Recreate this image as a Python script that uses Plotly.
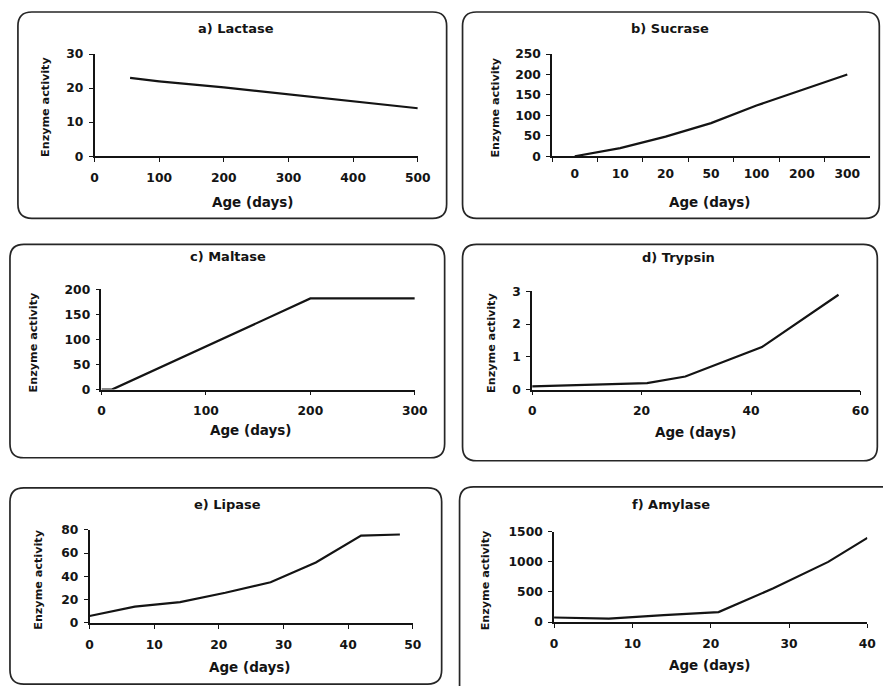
import plotly.graph_objects as go

W, H = 883, 686

# ---------------- data ----------------
lactase_age = [55, 100, 200, 300, 400, 500]
lactase_act = [23, 22, 20.2, 18.2, 16.3, 14.1]

sucrase_age = ["0", "10", "20", "50", "100", "200", "300"]
sucrase_act = [0, 20, 48, 81, 124, 162, 200]

maltase_age = [0, 10, 200, 300]
maltase_act = [0, 0, 182, 182]

trypsin_age = [0, 21, 28, 42, 56]
trypsin_act = [0.1, 0.2, 0.4, 1.3, 2.9]

lipase_age = [0, 7, 14, 21, 28, 35, 42, 48]
lipase_act = [6, 14, 18, 26, 35, 52, 75, 76]

amylase_age = [0, 7, 14, 21, 28, 35, 40]
amylase_act = [75, 55, 115, 165, 560, 1000, 1400]

titles = ["a) Lactase", "b) Sucrase", "c) Maltase", "d) Trypsin", "e) Lipase", "f) Amylase"]
x_title = "Age (days)"
y_title = "Enzyme activity"

# ---------------- layout helpers (screen px -> paper, with capture calibration) ----------------
SX, OX = 0.986, 2.0
SY, OY = 0.978, 8.0


def px(x):
    return ((x - OX) / SX) / W


def py(y):
    return 1 - ((y - OY) / SY) / H


def clamp(v):
    return min(1.0, max(0.0, v))


FONT = "DejaVu Sans"
INK = "#141414"

panels = [
    dict(x=lactase_age, y=lactase_act, area=(93, 418, 55, 157), xr=[0, 500], xd=100, yr=[0, 30], yd=10,
         box=(16, 13, 447, 219), t=(235, 29), xt=(252, 203), yt=(43, 108)),
    dict(x=sucrase_age, y=sucrase_act, area=(553, 873, 55, 157), xr=None, xd=None, yr=[0, 250], yd=50,
         box=(463, 13, 882, 219), t=(672, 29), xt=(712, 203), yt=(496, 108)),
    dict(x=maltase_age, y=maltase_act, area=(100, 415, 290, 390), xr=[0, 300], xd=100, yr=[0, 200], yd=50,
         box=(8, 245, 445, 458), t=(227, 257), xt=(250, 430), yt=(32, 343)),
    dict(x=trypsin_age, y=trypsin_act, area=(533, 863, 292, 390), xr=[0, 60], xd=20, yr=[0, 3], yd=1,
         box=(463, 245, 880, 461), t=(680, 258), xt=(698, 432), yt=(492, 343)),
    dict(x=lipase_age, y=lipase_act, area=(88, 413, 530, 623), xr=[0, 50], xd=10, yr=[0, 80], yd=20,
         box=(8, 488, 442, 684), t=(227, 505), xt=(249, 667), yt=(37, 580)),
    dict(x=amylase_age, y=amylase_act, area=(555, 870, 532, 622), xr=[0, 40], xd=10, yr=[0, 1500], yd=500,
         box=(460, 487, 900, 700), t=(673, 505), xt=(712, 665), yt=(487, 580)),
]

fig = go.Figure()
shapes = []
annotations = []


def rounded_box(x0, y0, x1, y1, r=14):
    rx, ry = r / (W * SX), r / (H * SY)
    X0, X1 = px(x0), px(x1)
    Y0, Y1 = py(y0), py(y1)
    path = (
        f"M {X0 + rx},{Y0} L {X1 - rx},{Y0} Q {X1},{Y0} {X1},{Y0 - ry} "
        f"L {X1},{Y1 + ry} Q {X1},{Y1} {X1 - rx},{Y1} "
        f"L {X0 + rx},{Y1} Q {X0},{Y1} {X0},{Y1 + ry} "
        f"L {X0},{Y0 - ry} Q {X0},{Y0} {X0 + rx},{Y0} Z"
    )
    return dict(type="path", xref="paper", yref="paper", path=path,
                line=dict(color="#262626", width=1.7), layer="below")


for i, p in enumerate(panels, start=1):
    xa = "x" if i == 1 else f"x{i}"
    ya = "y" if i == 1 else f"y{i}"
    fig.add_trace(go.Scatter(x=p["x"], y=p["y"], mode="lines",
                             line=dict(color=INK, width=2.2),
                             xaxis=xa, yaxis=ya, showlegend=False,
                             hoverinfo="x+y"))
    x0, x1, yt, yb = p["area"]
    xkey = "xaxis" if i == 1 else f"xaxis{i}"
    ykey = "yaxis" if i == 1 else f"yaxis{i}"
    common = dict(showgrid=False, zeroline=False, showline=True, linecolor=INK, linewidth=1.6,
                  ticks="outside", ticklen=4, tickwidth=1.4, tickcolor=INK,
                  tickfont=dict(family=FONT, size=12.3, color=INK, weight="bold"),
                  fixedrange=True)
    xdom = [clamp(px(x0)), clamp(px(x1))]
    ydom = [clamp(py(yb)), clamp(py(yt))]
    if p["xr"] is None:
        xaxis = dict(common, domain=xdom, anchor=ya, type="category",
                     tickson="boundaries", range=[-0.5, len(p["x"]) - 0.5],
                     ticklabelstandoff=5)
    else:
        xaxis = dict(common, domain=xdom, anchor=ya, range=p["xr"],
                     dtick=p["xd"], tick0=0, ticklabelstandoff=5)
    yaxis = dict(common, domain=ydom, anchor=xa, range=p["yr"],
                 dtick=p["yd"], tick0=0, ticklabelstandoff=3)
    fig.layout[xkey] = xaxis
    fig.layout[ykey] = yaxis

    shapes.append(rounded_box(*p["box"]))
    annotations.append(dict(text=titles[i - 1], x=px(p["t"][0]), y=py(p["t"][1]),
                            xref="paper", yref="paper", showarrow=False,
                            xanchor="center", yanchor="middle",
                            font=dict(family=FONT, size=13, color=INK, weight="bold")))
    annotations.append(dict(text=x_title, x=px(p["xt"][0]), y=py(p["xt"][1]),
                            xref="paper", yref="paper", showarrow=False,
                            xanchor="center", yanchor="middle",
                            font=dict(family=FONT, size=13.5, color=INK, weight="bold")))
    annotations.append(dict(text=y_title, x=px(p["yt"][0]), y=py(p["yt"][1]),
                            xref="paper", yref="paper", showarrow=False, textangle=-90,
                            xanchor="center", yanchor="middle",
                            font=dict(family=FONT, size=11.2, color=INK, weight="bold")))

fig.update_layout(width=W, height=H, margin=dict(l=0, r=0, t=0, b=0),
                  paper_bgcolor="white", plot_bgcolor="white",
                  shapes=shapes, annotations=annotations, showlegend=False)

fig.write_html("out.html", config={"displayModeBar": False},
               post_script="document.body.style.margin='0';document.body.style.padding='0';"
                           "document.documentElement.style.overflow='hidden';")
